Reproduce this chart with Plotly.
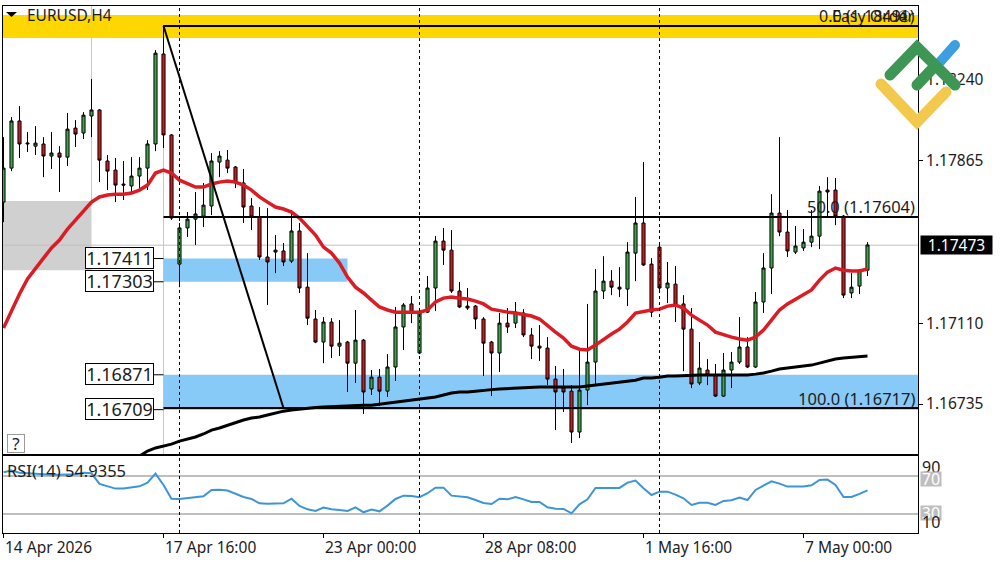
import base64
import plotly.graph_objects as go

# EURUSD H4 bars
bar_open = [
    1.17673, 1.17831, 1.18050, 1.17943, 1.17933, 1.17943, 1.17887, 1.17901, 1.17882, 1.18017,
    1.17994, 1.18073, 1.18101, 1.17864, 1.17822, 1.17757, 1.17748, 1.17794, 1.17831, 1.17943,
    1.18361, 1.17985, 1.17385, 1.17553, 1.17594, 1.17608, 1.17655, 1.17859, 1.17868, 1.17836,
    1.17762, 1.17655, 1.17604, 1.17418, 1.17441, 1.17446, 1.17399, 1.17539, 1.17278, 1.17130,
    1.17023, 1.17116, 1.17004, 1.17023, 1.16925, 1.17032, 1.16805, 1.16860, 1.16795, 1.16907,
    1.17093, 1.17200, 1.16972, 1.17162, 1.17274, 1.17492, 1.17450, 1.17260, 1.17190, 1.17190,
    1.17130, 1.17023, 1.16972, 1.17111, 1.17111, 1.17158, 1.17056, 1.17004, 1.16995, 1.16851,
    1.16809, 1.16795, 1.16605, 1.16800, 1.16930, 1.17260, 1.17306, 1.17278, 1.17269, 1.17436,
    1.17576, 1.17385, 1.17464, 1.17274, 1.17292, 1.17200, 1.17083, 1.16833, 1.16893, 1.16870,
    1.16772, 1.16893, 1.16930, 1.17000, 1.16907, 1.17209, 1.17367, 1.17622, 1.17534, 1.17441,
    1.17460, 1.17487, 1.17515, 1.17729, 1.17729, 1.17608, 1.17251, 1.17283, 1.17357,
]
bar_high = [
    1.17975, 1.18068, 1.18119, 1.17998, 1.18026, 1.17975, 1.17998, 1.17933, 1.18087, 1.18054,
    1.18091, 1.18245, 1.18105, 1.17892, 1.17878, 1.17864, 1.17882, 1.17882, 1.17961, 1.18379,
    1.18495, 1.17989, 1.17576, 1.17627, 1.17720, 1.17762, 1.17901, 1.17910, 1.17915, 1.17841,
    1.17827, 1.17692, 1.17650, 1.17645, 1.17520, 1.17483, 1.17636, 1.17576, 1.17436, 1.17172,
    1.17139, 1.17134, 1.17125, 1.17028, 1.17172, 1.17037, 1.16893, 1.16898, 1.16967, 1.17186,
    1.17204, 1.17237, 1.17172, 1.17330, 1.17515, 1.17553, 1.17543, 1.17302, 1.17274, 1.17195,
    1.17139, 1.17028, 1.17158, 1.17181, 1.17209, 1.17176, 1.17088, 1.17102, 1.17046, 1.16912,
    1.16898, 1.16823, 1.16981, 1.17200, 1.17362, 1.17422, 1.17357, 1.17371, 1.17487, 1.17697,
    1.17859, 1.17413, 1.17487, 1.17395, 1.17376, 1.17241, 1.17181, 1.17023, 1.16944, 1.16921,
    1.16972, 1.16977, 1.17139, 1.17046, 1.17255, 1.17436, 1.17710, 1.17975, 1.17636, 1.17562,
    1.17548, 1.17636, 1.17748, 1.17789, 1.17785, 1.17613, 1.17343, 1.17362, 1.17487,
]
bar_low = [
    1.17580, 1.17817, 1.17878, 1.17906, 1.17892, 1.17789, 1.17827, 1.17720, 1.17841, 1.17929,
    1.17966, 1.17975, 1.17766, 1.17729, 1.17673, 1.17683, 1.17720, 1.17729, 1.17729, 1.17910,
    1.17924, 1.17590, 1.17278, 1.17511, 1.17474, 1.17557, 1.17613, 1.17789, 1.17808, 1.17738,
    1.17576, 1.17543, 1.17404, 1.17195, 1.17343, 1.17376, 1.17390, 1.17251, 1.17102, 1.17018,
    1.16925, 1.16949, 1.16958, 1.16791, 1.16833, 1.16689, 1.16777, 1.16726, 1.16768, 1.16842,
    1.16986, 1.17111, 1.16967, 1.17158, 1.17167, 1.17381, 1.17251, 1.17181, 1.17172, 1.17083,
    1.16865, 1.16772, 1.16884, 1.17065, 1.17088, 1.17046, 1.16944, 1.16935, 1.16823, 1.16614,
    1.16698, 1.16554, 1.16577, 1.16730, 1.16823, 1.17223, 1.17241, 1.17232, 1.17190, 1.17306,
    1.17376, 1.17139, 1.17265, 1.17204, 1.17116, 1.16888, 1.16809, 1.16823, 1.16823, 1.16768,
    1.16768, 1.16809, 1.16921, 1.16902, 1.16902, 1.17158, 1.17246, 1.17515, 1.17418, 1.17432,
    1.17446, 1.17464, 1.17455, 1.17604, 1.17566, 1.17227, 1.17227, 1.17246, 1.17330,
]
bar_close = [
    1.17831, 1.18050, 1.17943, 1.17947, 1.17947, 1.17887, 1.17901, 1.17882, 1.18012, 1.17989,
    1.18077, 1.18101, 1.17868, 1.17817, 1.17752, 1.17752, 1.17794, 1.17831, 1.17943, 1.18365,
    1.17985, 1.17599, 1.17553, 1.17594, 1.17618, 1.17659, 1.17864, 1.17887, 1.17831, 1.17762,
    1.17650, 1.17604, 1.17418, 1.17395, 1.17450, 1.17395, 1.17539, 1.17274, 1.17134, 1.17023,
    1.17116, 1.17004, 1.17018, 1.16925, 1.17032, 1.16791, 1.16860, 1.16795, 1.16907, 1.17093,
    1.17195, 1.17162, 1.17162, 1.17274, 1.17492, 1.17450, 1.17260, 1.17186, 1.17181, 1.17130,
    1.17018, 1.16972, 1.17111, 1.17093, 1.17162, 1.17056, 1.17004, 1.16995, 1.16851, 1.16791,
    1.16791, 1.16605, 1.16800, 1.16930, 1.17260, 1.17306, 1.17278, 1.17269, 1.17441, 1.17576,
    1.17381, 1.17162, 1.17274, 1.17297, 1.17195, 1.17083, 1.16828, 1.16902, 1.16870, 1.16772,
    1.16893, 1.16930, 1.17000, 1.16907, 1.17209, 1.17367, 1.17622, 1.17534, 1.17446, 1.17469,
    1.17487, 1.17515, 1.17724, 1.17720, 1.17608, 1.17241, 1.17278, 1.17357, 1.17474,
]
ma_red = [
    1.17088, 1.17172, 1.17246, 1.17316, 1.17367, 1.17413, 1.17460, 1.17497, 1.17548, 1.17590,
    1.17631, 1.17673, 1.17697, 1.17706, 1.17710, 1.17710, 1.17715, 1.17729, 1.17752, 1.17808,
    1.17822, 1.17808, 1.17775, 1.17757, 1.17743, 1.17743, 1.17757, 1.17766, 1.17771, 1.17766,
    1.17752, 1.17729, 1.17697, 1.17673, 1.17650, 1.17641, 1.17627, 1.17599, 1.17557, 1.17520,
    1.17464, 1.17436, 1.17390, 1.17325, 1.17278, 1.17251, 1.17218, 1.17186, 1.17172, 1.17162,
    1.17162, 1.17162, 1.17162, 1.17172, 1.17209, 1.17227, 1.17232, 1.17227, 1.17223, 1.17213,
    1.17200, 1.17176, 1.17167, 1.17162, 1.17158, 1.17153, 1.17144, 1.17130, 1.17097, 1.17069,
    1.17042, 1.17004, 1.16990, 1.16986, 1.17009, 1.17037, 1.17060, 1.17083, 1.17116, 1.17158,
    1.17167, 1.17172, 1.17176, 1.17190, 1.17195, 1.17181, 1.17148, 1.17125, 1.17102, 1.17069,
    1.17056, 1.17046, 1.17037, 1.17032, 1.17046, 1.17079, 1.17125, 1.17172, 1.17200, 1.17223,
    1.17246, 1.17265, 1.17311, 1.17348, 1.17367, 1.17357, 1.17353, 1.17353, 1.17362,
]
ma_black = [None] * 17 + [
    1.16493, 1.16517, 1.16531,
    1.16540, 1.16549, 1.16563, 1.16572, 1.16582, 1.16596, 1.16614, 1.16624, 1.16637, 1.16651,
    1.16661, 1.16670, 1.16675, 1.16684, 1.16693, 1.16702, 1.16707, 1.16712, 1.16716, 1.16719,
    1.16721, 1.16723, 1.16726, 1.16726, 1.16728, 1.16730, 1.16730, 1.16735, 1.16740, 1.16744,
    1.16749, 1.16754, 1.16758, 1.16763, 1.16768, 1.16777, 1.16786, 1.16791, 1.16791, 1.16795,
    1.16800, 1.16802, 1.16805, 1.16807, 1.16809, 1.16812, 1.16814, 1.16814, 1.16814, 1.16814,
    1.16814, 1.16814, 1.16814, 1.16819, 1.16823, 1.16828, 1.16833, 1.16837, 1.16842, 1.16846,
    1.16856, 1.16856, 1.16860, 1.16865, 1.16865, 1.16867, 1.16870, 1.16870, 1.16870, 1.16870,
    1.16870, 1.16870, 1.16870, 1.16870, 1.16874, 1.16879, 1.16888, 1.16898, 1.16902, 1.16907,
    1.16912, 1.16916, 1.16925, 1.16935, 1.16944, 1.16949, 1.16953, 1.16956, 1.16958,
]
rsi_vals = [
    73.9, 75.6, 73.5, 72.8, 72.1, 71.4, 71.4, 71.4, 71.4, 71.8,
    73.5, 72.8, 61.6, 58.8, 56.7, 56.7, 58.1, 59.1, 63.0, 72.5,
    60.5, 46.1, 45.8, 46.8, 47.9, 48.6, 55.3, 55.6, 54.6, 51.4,
    47.9, 45.8, 41.2, 40.9, 40.9, 41.2, 46.1, 38.4, 34.9, 33.2,
    36.7, 34.9, 34.2, 33.2, 37.0, 31.8, 34.6, 32.8, 38.8, 45.8,
    49.3, 49.0, 47.6, 51.8, 57.7, 57.7, 49.3, 48.3, 47.6, 44.7,
    41.6, 40.5, 46.1, 45.4, 47.9, 45.4, 42.6, 42.6, 37.0, 35.6,
    35.3, 30.7, 40.2, 45.4, 57.4, 57.4, 57.4, 57.4, 63.0, 65.1,
    57.0, 50.0, 53.5, 53.5, 50.4, 46.5, 39.5, 41.9, 41.9, 39.5,
    43.7, 44.4, 47.2, 44.7, 55.3, 59.5, 64.4, 61.9, 58.8, 58.8,
    58.8, 60.2, 65.8, 66.2, 60.5, 47.9, 47.9, 51.1, 54.9,
]
bar_index = list(range(len(bar_open)))

price_ticks = [1.18240, 1.17865, 1.17110, 1.16735]
time_ticks = [0, 20, 40, 60, 80, 100]
time_labels = ["14 Apr 2026", "17 Apr 16:00", "23 Apr 00:00", "28 Apr 08:00", "1 May 16:00", "7 May 00:00"]
session_lines = [22, 52, 82]
last_price = 1.17473

fib_start, fib_end = 20, 35
fib_levels = [1.18491, 1.17604, 1.16717]
fib_labels = ["0.0 (1.18491)", "50.0 (1.17604)", "100.0 (1.16717)"]
zone_levels = [1.17411, 1.17303, 1.16871, 1.16709]

W, H = 1000, 562
L, R, T, B = 3, 918, 6, 533
X_RANGE = [-0.0625, 114.3125]
FONT = "Noto Sans"
TEXT = "#1c1c1c"


def px(x):
    return (x - L) / (R - L)


def py(y):
    return (B - y) / (B - T)


def note(text, x, y, size=15.5, anchor="left", color=TEXT, **kw):
    return dict(text=text, xref="paper", yref="paper", x=px(x), y=py(y), xanchor=anchor,
                yanchor="middle", showarrow=False, font=dict(family=FONT, size=size, color=color), **kw)


fig = go.Figure()
fig.add_trace(go.Candlestick(
    x=bar_index, open=bar_open, high=bar_high, low=bar_low, close=bar_close,
    whiskerwidth=0, hoverinfo="skip", showlegend=False,
    increasing=dict(fillcolor="#3fa84b", line=dict(color="black", width=1)),
    decreasing=dict(fillcolor="#cf1c24", line=dict(color="black", width=1)),
))
fig.add_trace(go.Scatter(x=bar_index, y=ma_black, mode="lines", line=dict(color="black", width=3),
                         showlegend=False, hoverinfo="skip"))
fig.add_trace(go.Scatter(x=bar_index, y=ma_red, mode="lines", line=dict(color="#dc1c24", width=3.5),
                         showlegend=False, hoverinfo="skip"))
fig.add_trace(go.Scatter(x=bar_index, y=rsi_vals, xaxis="x2", yaxis="y2", mode="lines",
                         line=dict(color="#3d95d8", width=2), showlegend=False, hoverinfo="skip"))

shapes = [
    # yellow band and grey box, behind the candles
    dict(type="rect", xref="x", yref="y", x0=X_RANGE[0], x1=X_RANGE[1], y0=1.18435, y1=1.18542,
         fillcolor="#ffd700", line_width=0, layer="below"),
    dict(type="rect", xref="x", yref="y", x0=X_RANGE[0], x1=11, y0=1.17357, y1=1.17678,
         fillcolor="#d0d0d0", line_width=0, layer="below"),
    dict(type="line", xref="x", yref="paper", x0=11, x1=11, y0=py(201), y1=1,
         line=dict(color="#c8c8c8", width=1), layer="below"),
    # blue zones
    dict(type="rect", xref="x", yref="y", x0=fib_start, x1=43, y0=zone_levels[1], y1=zone_levels[0],
         fillcolor="#88caf7", line_width=0, layer="below"),
    dict(type="rect", xref="x", yref="y", x0=fib_start, x1=X_RANGE[1], y0=zone_levels[3], y1=zone_levels[2],
         fillcolor="#88caf7", line_width=0, layer="below"),
    dict(type="line", xref="x", yref="paper", x0=fib_start, x1=fib_start, y0=py(454), y1=py(25),
         line=dict(color="#c8c8c8", width=1), layer="below"),
    # last price line
    dict(type="line", xref="x", yref="y", x0=X_RANGE[0], x1=X_RANGE[1], y0=last_price, y1=last_price,
         line=dict(color="#c0c0c0", width=1), layer="below"),
    # fib trend line
    dict(type="line", xref="x", yref="y", x0=fib_start, x1=fib_end, y0=fib_levels[0], y1=fib_levels[2],
         line=dict(color="black", width=2)),
    # rsi levels
    dict(type="line", xref="x2", yref="y2", x0=X_RANGE[0], x1=X_RANGE[1], y0=70, y1=70,
         line=dict(color="#bebebe", width=2), layer="below"),
    dict(type="line", xref="x2", yref="y2", x0=X_RANGE[0], x1=X_RANGE[1], y0=30, y1=30,
         line=dict(color="#bebebe", width=2), layer="below"),
    # little triangle next to the symbol
    dict(type="path", xref="paper", yref="paper",
         path=f"M {px(6)} {py(12)} L {px(17)} {py(12)} L {px(11.5)} {py(17)} Z",
         fillcolor="black", line_width=0),
]
for lvl in fib_levels:
    shapes.append(dict(type="line", xref="x", yref="y", x0=fib_start, x1=X_RANGE[1], y0=lvl, y1=lvl,
                       line=dict(color="black", width=2)))
for i in session_lines:
    shapes.append(dict(type="line", xref="x", yref="paper", x0=i, x1=i, y0=0, y1=1,
                       line=dict(color="black", width=1, dash="3px,3px")))
for lvl in zone_levels:
    shapes.append(dict(type="line", xref="x", yref="y", x0=18.7, x1=fib_start, y0=lvl, y1=lvl,
                       line=dict(color="black", width=1)))

annotations = [
    note("EURUSD,H4", 25, 15, size=15.5),
    note("RSI(14) 54.9355", 5, 470, size=16.5),
    # overlapping labels in the top right corner
    note("Easy Order", 917, 16, size=16, anchor="right"),
    note(fib_labels[0], 917, 16, size=16, anchor="right"),
    note("①", 904, 16, size=16, anchor="center"),
    note(fib_labels[1], 917, 207, size=16.5, anchor="right"),
    note(fib_labels[2], 917, 398, size=16.5, anchor="right"),
    note("?", 15.5, 443.5, size=17, anchor="center", bgcolor="white", bordercolor="#9a9a9a",
         borderwidth=1, width=16, height=17, borderpad=0),
    note(f"{last_price:.5f}", 920, 245, size=15.5, color="white", bgcolor="black",
         width=71, height=18, borderpad=0),
    # rsi scale
    note("90", 920, 467, size=16),
    note("70", 920, 479, size=16, color="white", bgcolor="#bebebe", width=20, height=14, borderpad=0),
    note("30", 920, 513, size=16, color="white", bgcolor="#bebebe", width=20, height=14, borderpad=0),
    note("10", 920, 522, size=16),
]
level_rows = [257.5, 281.5, 374, 409]
for lvl, row in zip(zone_levels, level_rows):
    annotations.append(note(f"{lvl:.5f}", 85, row, size=18, bgcolor="white", bordercolor="black",
                            borderwidth=1, width=67, height=20, borderpad=0))
for i, lab in zip(time_ticks, time_labels):
    annotations.append(note(lab, 2.5 + 8 * i, 547, size=15.5))

# logo drawn as a small inline svg so the strokes get round ends
logo_svg = """<svg xmlns="http://www.w3.org/2000/svg" width="100" height="100" viewBox="870 35 100 100">
<g fill="none" stroke-linecap="round" stroke-linejoin="miter">
<path d="M940 62 L955 45" stroke="#3d9fe0" stroke-width="10"/>
<path d="M881 84 L917 122 L946 92" stroke="#f2c94c" stroke-width="11"/>
<path d="M890 75 L917 47 L955 85 M917 85 L935 66" stroke="#3e9655" stroke-width="11"/>
</g></svg>"""
logo_src = "data:image/svg+xml;base64," + base64.b64encode(logo_svg.encode()).decode()

fig.update_layout(
    width=W, height=H,
    margin=dict(l=L, r=W - R, t=T, b=H - B, pad=0),
    paper_bgcolor="white", plot_bgcolor="white",
    boxgap=0.45,
    showlegend=False,
    shapes=shapes, annotations=annotations,
    images=[dict(source=logo_src, xref="paper", yref="paper", x=px(870), y=py(35),
                 sizex=100 / (R - L), sizey=100 / (B - T), sizing="stretch",
                 xanchor="left", yanchor="top", layer="above")],
    xaxis=dict(domain=[0, 1], range=X_RANGE, anchor="y", rangeslider=dict(visible=False),
               showticklabels=False, ticks="", showgrid=False, zeroline=False,
               showline=True, linecolor="black", linewidth=1, mirror=True),
    yaxis=dict(domain=[py(454), 1], range=[1.16503, 1.18584], anchor="x", side="right",
               tickmode="array", tickvals=price_ticks, ticktext=[f"{v:.5f}" for v in price_ticks],
               ticks="outside", ticklen=4, tickcolor="black",
               tickfont=dict(family=FONT, size=15.5, color=TEXT),
               showgrid=False, zeroline=False, showline=True, linecolor="black", linewidth=1, mirror=True),
    xaxis2=dict(domain=[0, 1], range=X_RANGE, anchor="y2", matches="x",
                tickmode="array", tickvals=time_ticks, ticktext=[""] * len(time_ticks),
                ticks="outside", ticklen=4, tickcolor="black",
                showgrid=False, zeroline=False, showline=True, linecolor="black", linewidth=1, mirror=True),
    yaxis2=dict(domain=[0, py(456)], range=[10, 91], anchor="x2", side="right",
                showticklabels=False, ticks="", showgrid=False, zeroline=False,
                showline=True, linecolor="black", linewidth=1, mirror=True),
)

# the browser's default body margin would shift the whole chart by 8px
fig.write_html("out.html", config={"displayModeBar": False},
               post_script="document.body.style.margin='0';")
